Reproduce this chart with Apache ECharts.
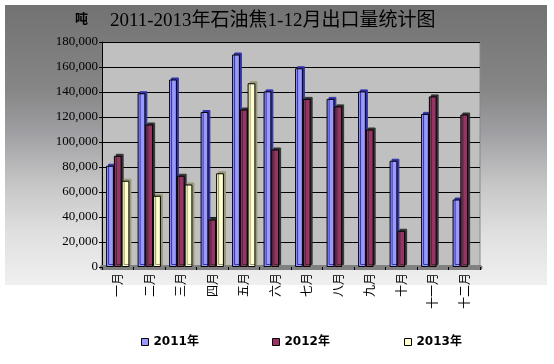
<!DOCTYPE html>
<html><head><meta charset="utf-8">
<script src="https://cdn.jsdelivr.net/npm/echarts@6/dist/echarts.min.js"></script>
<style>html,body{margin:0;padding:0;background:#fff}#c{width:554px;height:364px}</style>
</head><body><div id="c"></div>
<script>
const months = ['一月','二月','三月','四月','五月','六月','七月','八月','九月','十月','十一月','十二月'];
const seriesNames = ['2011年','2012年','2013年'];
const y2011 = [81000,139000,150000,124000,170000,140500,159000,134500,140500,85000,122500,54000];
const y2012 = [89000,114000,73000,38000,126000,94000,134500,128500,110000,29000,136500,122000];
const y2013 = [69000,57000,66000,75000,147000,null,null,null,null,null,null,null];
const titleText = '2011-2013年石油焦1-12月出口量统计图';
const unitText = '吨';

const chart = echarts.init(document.getElementById('c'), null, {renderer:'canvas'});
const colors = ['#9999FF','#993366','#FFFFCC'];
const sideColors = ['#3333AA','#333333','#999977'];
function mk(i, data){
  return {
    name: seriesNames[i], type:'bar', data: data, barGap:'0%', barCategoryGap:'26%',
    itemStyle:{color:colors[i], borderColor:'#000', borderWidth:1,
      shadowColor:sideColors[i], shadowOffsetX:2, shadowOffsetY:-2, shadowBlur:0}
  };
}
const legendBase = {orient:'horizontal', top:331, itemWidth:7, itemHeight:7, itemGap:4, icon:'rect',
  textStyle:{fontSize:12, fontWeight:'bold', color:'#000', fontFamily:'DejaVu Sans, Noto Sans CJK SC'}};
chart.setOption({
  animation:false,
  backgroundColor:'#ffffff',
  graphic:[
    {type:'rect', z:-10, shape:{x:5,y:5,width:542,height:280},
     style:{fill:new echarts.graphic.LinearGradient(0,0,0,1,[
       {offset:0,color:'#727272'},{offset:0.3,color:'#868686'},{offset:0.45,color:'#9e9ea2'},
       {offset:0.65,color:'#c8c8c8'},{offset:0.82,color:'#e0e0e0'},{offset:1,color:'#f0f0f0'}])}}
  ],
  title:[
    {text:titleText, left:105, top:7, textStyle:{fontSize:19, fontWeight:'normal', color:'#000', fontFamily:'Liberation Serif, Noto Sans CJK SC'}},
    {text:unitText, left:70, top:7, textStyle:{fontSize:13, fontWeight:'bold', color:'#000', fontFamily:'Noto Sans CJK SC'}}
  ],
  legend:[
    Object.assign({}, legendBase, {left:136, data:[{name:seriesNames[0], itemStyle:{color:colors[0],borderColor:'#000',borderWidth:1}}]}),
    Object.assign({}, legendBase, {left:267, data:[{name:seriesNames[1], itemStyle:{color:colors[1],borderColor:'#000',borderWidth:1}}]}),
    Object.assign({}, legendBase, {left:399, data:[{name:seriesNames[2], itemStyle:{color:colors[2],borderColor:'#000',borderWidth:1}}]})
  ],
  grid:{left:102, right:74, top:42, bottom:97, show:true, backgroundColor:'#c0c0c0', borderColor:'#888', borderWidth:1},
  xAxis:{type:'category', data:months,
    axisLine:{lineStyle:{color:'#808080', width:5}},
    axisTick:{show:true, length:3, lineStyle:{color:'#000'}},
    axisLabel:{rotate:90, fontSize:12, color:'#000', margin:6, fontFamily:'Noto Sans CJK SC'}},
  yAxis:{type:'value', min:0, max:180000, interval:20000,
    axisLine:{show:true, lineStyle:{color:'#000'}},
    axisTick:{show:true, length:3, lineStyle:{color:'#000'}},
    splitLine:{lineStyle:{color:'#000', width:1}},
    axisLabel:{fontSize:13, color:'#000', margin:4, fontFamily:'Liberation Serif',
      formatter:function(v){return v.toLocaleString('en-US');}}},
  series:[mk(0,y2011), mk(1,y2012), mk(2,y2013)]
});
</script></body></html>
